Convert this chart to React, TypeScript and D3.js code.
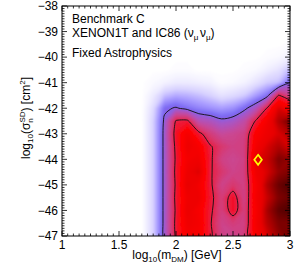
import * as d3 from 'd3';

// profile likelihood (normalised to best fit) on a coarse grid
const massGrid = [1.0, 1.1, 1.2, 1.3, 1.4, 1.5, 1.6, 1.7, 1.8, 1.9, 2.0, 2.1, 2.2, 2.3, 2.4, 2.5, 2.6, 2.7, 2.8, 2.9, 3.0];
const sigmaGrid = [-38, -38.5, -39, -39.5, -40, -40.5, -41, -41.5, -42, -42.5, -43, -43.5, -44, -44.5, -45, -45.5, -46, -46.5, -47];

// one row per sigmaGrid entry, one column per massGrid entry
const likelihood = [
  [0, 0, 0, 0, 0, 0, 0, 0, 0, 0, 0, 0, 0, 0, 0, 0, 0, 0, 0, 0, 0],
  [0, 0, 0, 0, 0, 0, 0, 0, 0, 0, 0, 0, 0, 0, 0, 0, 0, 0, 0, 0, 0],
  [0, 0, 0, 0, 0, 0, 0, 0, 0, 0, 0, 0, 0, 0, 0, 0, 0, 0, 0, 0, 0],
  [0, 0, 0, 0, 0, 0, 0, 0, 0, 0, 0, 0, 0, 0, 0, 0, 0, 0, 0, 0, 0.01],
  [0, 0, 0, 0, 0, 0, 0, 0, 0, 0, 0, 0, 0, 0, 0, 0, 0, 0, 0.01, 0.02, 0.05],
  [0, 0, 0, 0, 0, 0, 0, 0, 0, 0, 0.01, 0.01, 0, 0, 0, 0, 0.01, 0.02, 0.05, 0.08, 0.16],
  [0, 0, 0, 0, 0, 0, 0, 0, 0.02, 0.04, 0.06, 0.06, 0.05, 0.04, 0.01, 0.02, 0.04, 0.08, 0.13, 0.15, 0.3],
  [0, 0, 0, 0, 0, 0, 0, 0, 0.06, 0.15, 0.18, 0.17, 0.15, 0.12, 0.08, 0.1, 0.13, 0.2, 0.27, 0.56, 0.45],
  [0, 0, 0, 0, 0, 0, 0, 0, 0.1, 0.28, 0.31, 0.27, 0.24, 0.22, 0.2, 0.22, 0.28, 0.36, 0.56, 0.8, 0.7],
  [0, 0, 0, 0, 0, 0, 0, 0, 0.12, 0.32, 0.56, 0.57, 0.38, 0.36, 0.32, 0.34, 0.4, 0.56, 0.72, 0.85, 0.92],
  [0, 0, 0, 0, 0, 0, 0, 0, 0.12, 0.33, 0.6, 0.72, 0.58, 0.48, 0.42, 0.44, 0.46, 0.68, 0.75, 0.8, 0.85],
  [0, 0, 0, 0, 0, 0, 0, 0, 0.12, 0.33, 0.58, 0.75, 0.7, 0.56, 0.5, 0.46, 0.47, 0.72, 0.8, 0.85, 0.8],
  [0, 0, 0, 0, 0, 0, 0, 0, 0.12, 0.33, 0.57, 0.72, 0.74, 0.57, 0.46, 0.44, 0.46, 0.78, 0.82, 0.9, 0.88],
  [0, 0, 0, 0, 0, 0, 0, 0, 0.12, 0.33, 0.58, 0.75, 0.8, 0.56, 0.5, 0.45, 0.47, 0.74, 0.8, 0.88, 0.9],
  [0, 0, 0, 0, 0, 0, 0, 0, 0.12, 0.33, 0.57, 0.78, 0.72, 0.57, 0.45, 0.5, 0.46, 0.7, 0.85, 0.92, 0.95],
  [0, 0, 0, 0, 0, 0, 0, 0, 0.12, 0.33, 0.58, 0.74, 0.75, 0.58, 0.48, 0.6, 0.45, 0.72, 0.82, 0.9, 0.92],
  [0, 0, 0, 0, 0, 0, 0, 0, 0.12, 0.33, 0.57, 0.76, 0.7, 0.57, 0.47, 0.6, 0.47, 0.7, 0.86, 0.93, 0.95],
  [0, 0, 0, 0, 0, 0, 0, 0, 0.12, 0.33, 0.58, 0.74, 0.72, 0.56, 0.45, 0.48, 0.46, 0.72, 0.84, 0.9, 0.9],
  [0, 0, 0, 0, 0, 0, 0, 0, 0.12, 0.33, 0.57, 0.72, 0.7, 0.57, 0.46, 0.44, 0.48, 0.7, 0.8, 0.88, 0.92],
];

// confidence contours (outer, inner)
const contourLevels = [0.3, 0.55];

// best-fit point
const bestFitMass = [2.72];
const bestFitSigma = [-44.02];

const xTicks = [1, 1.5, 2, 2.5, 3];
const xTickLabels = ['1', '1.5', '2', '2.5', '3'];
const yTicks = [-47, -46, -45, -44, -43, -42, -41, -40, -39, -38];

const W = 299;
const H = 268;
const plot = { left: 62, right: 290, top: 6, bottom: 236 };
const font = '"Liberation Sans", Arial, Helvetica, sans-serif';

// colour ramp: white -> lavender -> blue-violet -> pink -> red -> dark red
const colorStops = [0, 0.04, 0.12, 0.2, 0.28, 0.34, 0.42, 0.5, 0.58, 0.66, 0.78, 0.86, 0.93, 1];
const colorRamp = ['#ffffff', '#f4f2ff', '#d8d2ff', '#a99cff', '#7a68f2', '#a657c8', '#c64a9c', '#d8386e', '#f01530', '#ff0404', '#e80000', '#a80000', '#600000', '#200000'];

export default function App() {
  const x = d3.scaleLinear().domain([1, 3]).range([plot.left, plot.right]);
  const y = d3.scaleLinear().domain([-47, -38]).range([plot.bottom, plot.top]);

  const nx = massGrid.length;
  const ny = sigmaGrid.length;
  const values = likelihood.flat();

  // grid coords of d3.contours -> data coords
  const gx = d3.scaleLinear().domain([0.5, nx - 0.5]).range([massGrid[0], massGrid[nx - 1]]);
  const gy = d3.scaleLinear().domain([0.5, ny - 0.5]).range([sigmaGrid[0], sigmaGrid[ny - 1]]);
  const toPx = (p: number[]): [number, number] => [x(gx(p[0])), y(gy(p[1]))];
  const projection = d3.geoTransform({
    point(px: number, py: number) {
      (this as any).stream.point(x(gx(px)), y(gy(py)));
    },
  });
  const geoPath = d3.geoPath(projection);

  const color = d3.scaleLinear<string>().domain(colorStops).range(colorRamp).clamp(true);
  const step = 0.008;
  const shadeLevels = d3.range(0.004, 1, step);
  const bands = d3.contours().size([nx, ny]).thresholds(shadeLevels)(values);
  const lines = d3.contours().size([nx, ny]).thresholds(contourLevels)(values);
  const ringLine = d3.line().curve(d3.curveCatmullRomClosed.alpha(0.5));

  const linePaths: string[] = [];
  lines.forEach((mp) => {
    mp.coordinates.forEach((poly) => {
      poly.forEach((ring) => {
        linePaths.push(ringLine(ring.slice(0, -1).map(toPx)) || '');
      });
    });
  });

  const xMinor = d3.range(0, 41).map((i) => ({ v: 1 + i * 0.05, major: i % 10 === 0 }));
  const yMinor = d3.range(0, 91).map((i) => ({ v: -47 + i * 0.1, major: i % 10 === 0 }));
  const majLen = 5;
  const minLen = 2.5;

  return (
    <svg width={W} height={H} style={{ position: 'absolute', left: 0, top: 0, background: '#fff' }} fontFamily={font}>
      <defs>
        <clipPath id="plotClip">
          <rect x={plot.left} y={plot.top} width={plot.right - plot.left} height={plot.bottom - plot.top} />
        </clipPath>
        <filter id="soft" x="-5%" y="-5%" width="110%" height="110%">
          <feGaussianBlur stdDeviation="1" />
        </filter>
      </defs>
      <rect width={W} height={H} fill="#fff" />

      <g clipPath="url(#plotClip)">
        <g filter="url(#soft)">
          {bands.map((b, i) => (
            <path key={i} d={geoPath(b as any) || ''} fill={color(b.value + step / 2)} stroke="none" />
          ))}
        </g>
        {linePaths.map((d, i) => (
          <path key={i} d={d} fill="none" stroke="#111" strokeWidth={0.9} />
        ))}
      </g>

      {/* best fit */}
      {bestFitMass.map((m, i) => (
        <path
          key={i}
          transform={`translate(${x(m)},${y(bestFitSigma[i])})`}
          d="M0,-5L3.8,0L0,5L-3.8,0Z"
          fill="none"
          stroke="#ffff00"
          strokeWidth={1.7}
        />
      ))}

      {/* frame and ticks */}
      <rect x={plot.left} y={plot.top} width={plot.right - plot.left} height={plot.bottom - plot.top} fill="none" stroke="#000" strokeWidth={1} />
      <g stroke="#000" strokeWidth={0.8}>
        {xMinor.map((t, i) => {
          const len = t.major ? majLen : minLen;
          return (
            <g key={i}>
              <line x1={x(t.v)} x2={x(t.v)} y1={plot.bottom} y2={plot.bottom - len} />
              <line x1={x(t.v)} x2={x(t.v)} y1={plot.top} y2={plot.top + len} />
            </g>
          );
        })}
        {yMinor.map((t, i) => {
          const len = t.major ? majLen : minLen;
          return (
            <g key={i}>
              <line x1={plot.left} x2={plot.left + len} y1={y(t.v)} y2={y(t.v)} />
              <line x1={plot.right} x2={plot.right - len} y1={y(t.v)} y2={y(t.v)} />
            </g>
          );
        })}
      </g>

      <g fontSize={12} fill="#000">
        {xTicks.map((t, i) => (
          <text key={i} x={x(t)} y={249} textAnchor="middle">
            {xTickLabels[i]}
          </text>
        ))}
        {yTicks.map((t) => (
          <text key={t} x={plot.left - 4} y={y(t)} dy="0.36em" textAnchor="end">
            {'\u2212' + Math.abs(t)}
          </text>
        ))}

        <text x={177} y={259} textAnchor="middle">
          log<tspan fontSize={8} dy={3}>10</tspan>
          <tspan dy={-3}>(m</tspan>
          <tspan fontSize={8} dy={3}>DM</tspan>
          <tspan dy={-3}>) [GeV]</tspan>
        </text>

        <text transform="translate(30,118) rotate(-90)" textAnchor="middle">
          log<tspan fontSize={8} dy={3}>10</tspan>
          <tspan dy={-3}>(σ</tspan>
          <tspan fontSize={8} dy={3}>n</tspan>
          <tspan fontSize={8} dx={-4.4} dy={-8}>SD</tspan>
          <tspan dy={5}>) [cm</tspan>
          <tspan fontSize={8} dy={-5}>2</tspan>
          <tspan dy={5}>]</tspan>
        </text>

        <text x={72} y={23}>Benchmark C</text>
        <text x={72} y={36.5}>
          XENON1T and IC86 (ν<tspan fontSize={8} dy={3}>μ</tspan>
          <tspan dy={-3} dx={1.5}>ν</tspan>
          <tspan fontSize={8} dy={3}>μ</tspan>
          <tspan dy={-3}>)</tspan>
        </text>
        <text x={72} y={57}>Fixed Astrophysics</text>
      </g>
    </svg>
  );
}
